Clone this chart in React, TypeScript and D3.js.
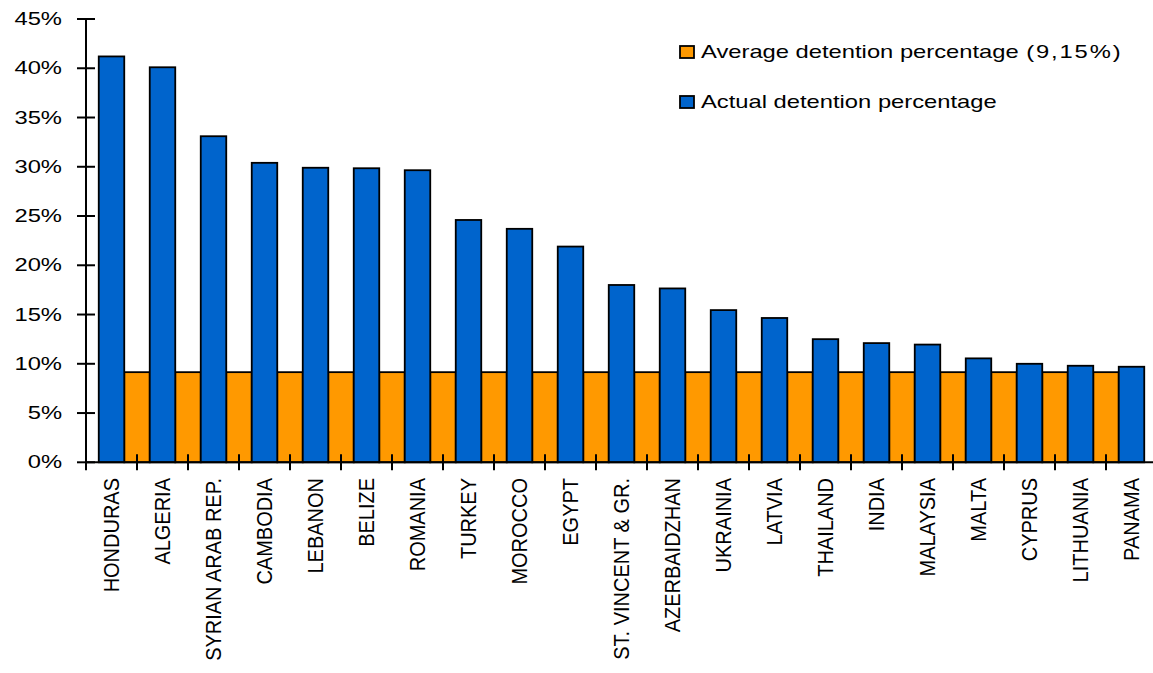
import React from "react";
import * as d3 from "d3";

// Port state control detention statistics by flag
const countries: string[] = [
  "HONDURAS", "ALGERIA", "SYRIAN ARAB REP.", "CAMBODIA", "LEBANON", "BELIZE",
  "ROMANIA", "TURKEY", "MOROCCO", "EGYPT", "ST. VINCENT & GR.", "AZERBAIDZHAN",
  "UKRAINIA", "LATVIA", "THAILAND", "INDIA", "MALAYSIA", "MALTA", "CYPRUS",
  "LITHUANIA", "PANAMA",
];

const actualDetention: number[] = [
  41.2, 40.1, 33.1, 30.4, 29.9, 29.85, 29.65, 24.6, 23.7, 21.9, 18.0, 17.65,
  15.45, 14.65, 12.5, 12.1, 11.95, 10.55, 10.0, 9.8, 9.7,
];

// Average detention percentage, drawn between neighbouring flags
const averageDetention: number[] = [
  9.15, 9.15, 9.15, 9.15, 9.15, 9.15, 9.15, 9.15, 9.15, 9.15, 9.15, 9.15,
  9.15, 9.15, 9.15, 9.15, 9.15, 9.15, 9.15, 9.15,
];

const yTicks: number[] = [0, 5, 10, 15, 20, 25, 30, 35, 40, 45];

const legendItems: { label: string; note: string; color: string }[] = [
  { label: "Average detention percentage", note: "(9,15%)", color: "#ff9900" },
  { label: "Actual detention percentage", note: "", color: "#0064cc" },
];

const W = 1153;
const H = 673;
const left = 86;
const right = 1157;
const top = 19;
const bottom = 462.3;

const BLUE = "#0064cc";
const ORANGE = "#ff9900";
const FONT = "'Liberation Sans', Arial, Helvetica, sans-serif";
const TEXT_STRETCH = 1.25;

export default function App() {
  const x = d3.scaleBand<string>().domain(countries).range([left, right]).padding(0);
  const y = d3.scaleLinear().domain([0, 45]).range([bottom, top]);
  const bw = x.bandwidth();

  return (
    <svg
      width={W}
      height={H}
      style={{ position: "absolute", left: 0, top: 0, background: "#fff" }}
      fontFamily={FONT}
    >
      <rect x={0} y={0} width={W} height={H} fill="#fff" />

      {/* average bars, centred on the category boundaries */}
      {averageDetention.map((v, i) => {
        const x0 = (x(countries[i]) as number) + bw * 0.75;
        return (
          <rect
            key={"avg" + i}
            x={x0}
            y={y(v)}
            width={bw * 0.5}
            height={y(0) - y(v)}
            fill={ORANGE}
            stroke="#000"
            strokeWidth={1.8}
          />
        );
      })}

      {/* actual detention bars */}
      {actualDetention.map((v, i) => {
        const x0 = (x(countries[i]) as number) + bw * 0.25;
        return (
          <rect
            key={"act" + i}
            x={x0}
            y={y(v)}
            width={bw * 0.5}
            height={y(0) - y(v)}
            fill={BLUE}
            stroke="#000"
            strokeWidth={1.8}
          />
        );
      })}

      {/* y axis */}
      <line x1={left} x2={left} y1={top} y2={bottom} stroke="#000" strokeWidth={2} />
      {yTicks.map((t) => (
        <g key={"yt" + t}>
          <line x1={left - 9} x2={left + 9} y1={y(t)} y2={y(t)} stroke="#000" strokeWidth={2} />
          <text
            transform={`translate(62,${y(t)}) scale(${TEXT_STRETCH},1)`}
            textAnchor="end"
            dominantBaseline="central"
            fontSize={19}
            fill="#000"
          >
            {t + "%"}
          </text>
        </g>
      ))}

      {/* x axis */}
      <line x1={left} x2={right} y1={bottom} y2={bottom} stroke="#000" strokeWidth={2} />
      {countries.map((c) => (
        <line
          key={"xt" + c}
          x1={x(c) as number}
          x2={x(c) as number}
          y1={bottom - 8}
          y2={bottom + 8}
          stroke="#000"
          strokeWidth={2}
        />
      ))}
      {countries.map((c) => {
        const cx = (x(c) as number) + bw / 2;
        return (
          <text
            key={"xl" + c}
            transform={`translate(${cx},478) scale(1.08,1) rotate(-90)`}
            textAnchor="end"
            dominantBaseline="central"
            fontSize={20}
            fill="#000"
          >
            {c}
          </text>
        );
      })}

      {/* legend */}
      {legendItems.map((item, i) => {
        const cy = 52 + i * 50;
        return (
          <g key={"lg" + i}>
            <rect
              x={680}
              y={cy - 6}
              width={14}
              height={12}
              fill={item.color}
              stroke="#000"
              strokeWidth={1.8}
            />
            <text
              transform={`translate(701,${cy}) scale(${TEXT_STRETCH},1)`}
              dominantBaseline="central"
              fontSize={19}
              fill="#000"
            >
              {item.label}
              {item.note ? (
                <tspan dx={6} letterSpacing={1.5}>
                  {item.note}
                </tspan>
              ) : null}
            </text>
          </g>
        );
      })}
    </svg>
  );
}
